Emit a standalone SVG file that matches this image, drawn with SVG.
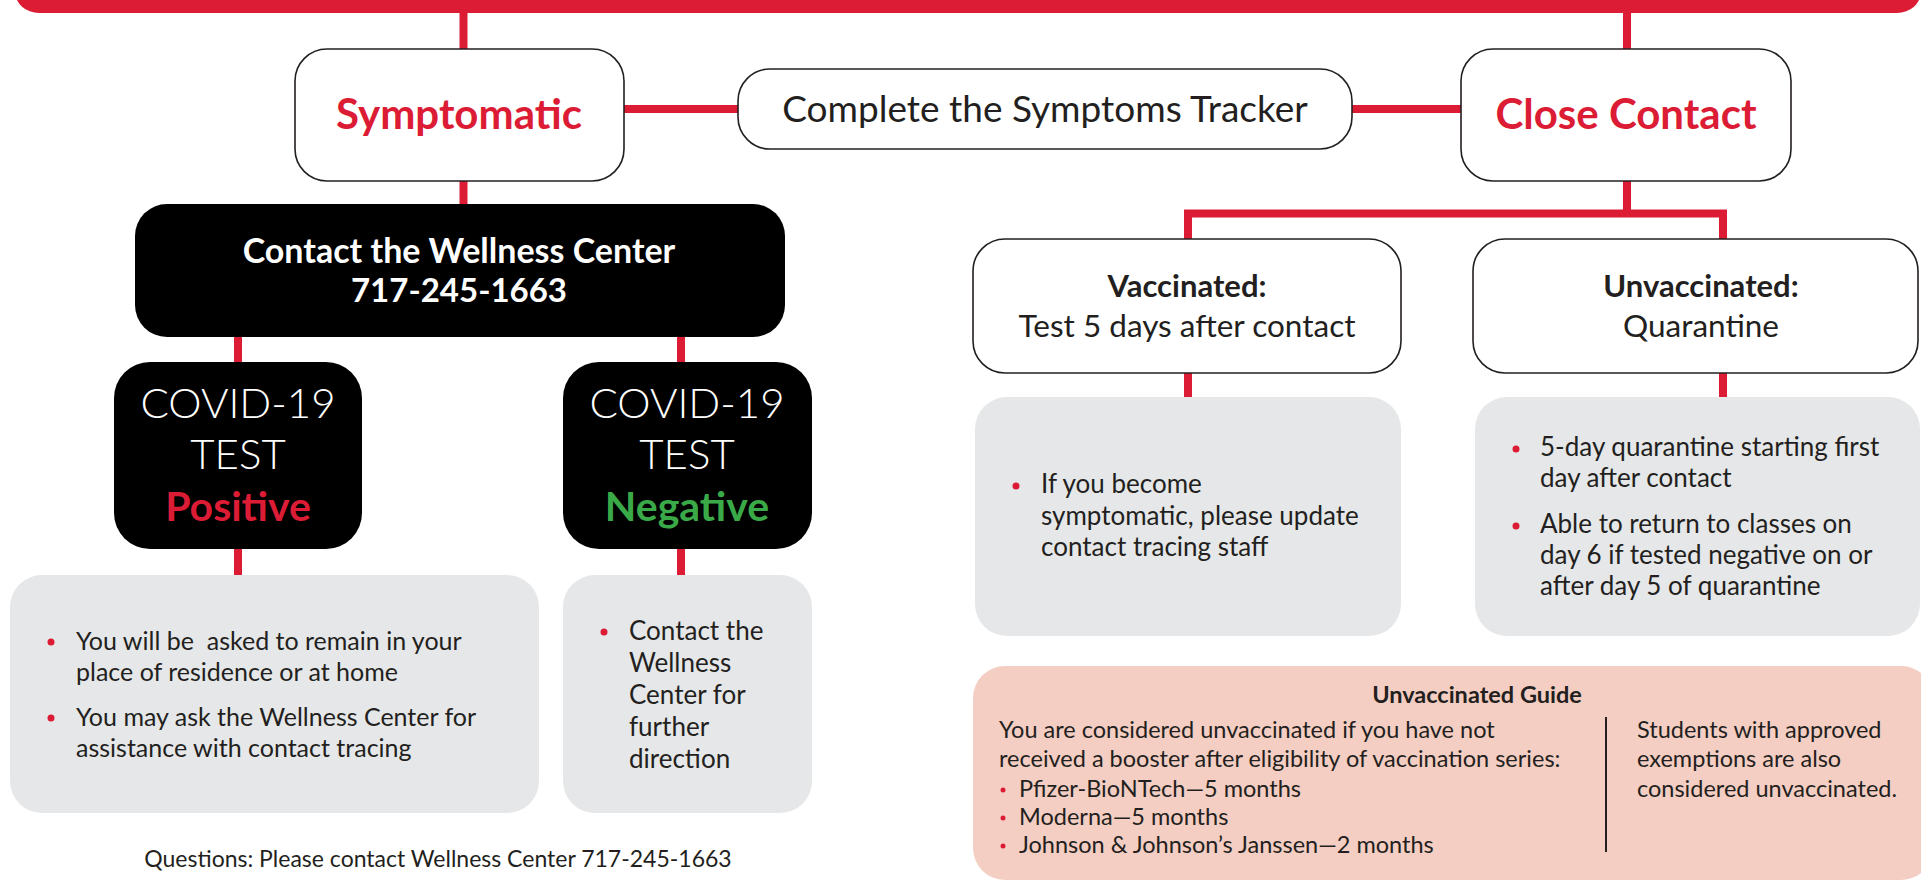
<svg xmlns="http://www.w3.org/2000/svg" width="1921" height="880" viewBox="0 0 1921 880">
  <style>
    text { font-family: Lato, "Open Sans", "Liberation Sans", sans-serif; fill: #231f20; }
    .outline { fill: #ffffff; stroke: #231f20; stroke-width: 1.6; }
    .dark { fill: #000000; }
    .grey { fill: #e6e7e8; }
    .pink { fill: #f4cec2; }
    .wire { fill: none; stroke: #dc1c35; stroke-width: 8; }
    .head { font-weight: 700; font-size: 42px; fill: #dc1c35; }
    .body { font-size: 26px; }
    .bodyl { font-size: 25px; }
    .small { font-size: 23.5px; }
    .mid { text-anchor: middle; }
    .bullet { fill: #dc1c35; }
    .white { fill: #ffffff; }
  </style>

  <!-- top banner -->
  <rect id="banner" x="15" y="-30" width="1906" height="43" rx="24" fill="#dc1c35"/>

  <!-- connectors -->
  <g id="connectors">
    <path class="wire" d="M463.5 13 V49"/>
    <path class="wire" d="M1627 13 V49"/>
    <path class="wire" d="M624 109 H738"/>
    <path class="wire" d="M1352 109 H1461"/>
    <path class="wire" d="M463.5 181 V204"/>
    <path class="wire" d="M238 337 V362"/>
    <path class="wire" d="M681 337 V362"/>
    <path class="wire" d="M238 549 V575"/>
    <path class="wire" d="M681 549 V575"/>
    <path class="wire" d="M1627 181 V213.5"/>
    <path class="wire" d="M1188 239 V213.5 H1723 V239"/>
    <path class="wire" d="M1188 373 V397"/>
    <path class="wire" d="M1723 373 V397"/>
  </g>

  <g id="symptomatic">
    <rect class="outline" x="295" y="49" width="329" height="132" rx="32"/>
    <text class="head mid" x="459" y="129">Symptomatic</text>
  </g>

  <g id="tracker">
    <rect class="outline" x="738" y="69" width="614" height="80" rx="32"/>
    <text class="mid" x="1045" y="122" font-size="37">Complete the Symptoms Tracker</text>
  </g>

  <g id="close-contact">
    <rect class="outline" x="1461" y="49" width="330" height="132" rx="32"/>
    <text class="head mid" x="1626" y="129">Close Contact</text>
  </g>

  <g id="wellness">
    <rect class="dark" x="135" y="204" width="650" height="133" rx="32"/>
    <text class="white mid" x="459" y="263" font-size="34" font-weight="700">Contact the Wellness Center</text>
    <text class="white mid" x="459" y="302" font-size="33" font-weight="700">717-245-1663</text>
  </g>

  <g id="test-positive">
    <rect class="dark" x="114" y="362" width="248" height="187" rx="36"/>
    <text class="white mid" x="238" y="418" font-size="42" font-weight="300">COVID-19</text>
    <text class="white mid" x="238" y="469" font-size="42" font-weight="300">TEST</text>
    <text class="mid" x="238" y="521" font-size="41" font-weight="700" style="fill:#dc1c35">Positive</text>
  </g>

  <g id="test-negative">
    <rect class="dark" x="563" y="362" width="249" height="187" rx="36"/>
    <text class="white mid" x="687" y="418" font-size="42" font-weight="300">COVID-19</text>
    <text class="white mid" x="687" y="469" font-size="42" font-weight="300">TEST</text>
    <text class="mid" x="687" y="521" font-size="41" font-weight="700" style="fill:#3aaa49">Negative</text>
  </g>

  <g id="positive-steps">
    <rect class="grey" x="10" y="575" width="529" height="238" rx="32"/>
    <circle class="bullet" cx="51" cy="642" r="3.5"/>
    <text class="bodyl" x="76" y="650" xml:space="preserve">You will be  asked to remain in your</text>
    <text class="bodyl" x="76" y="681">place of residence or at home</text>
    <circle class="bullet" cx="51" cy="718" r="3.5"/>
    <text class="bodyl" x="76" y="726">You may ask the Wellness Center for</text>
    <text class="bodyl" x="76" y="757">assistance with contact tracing</text>
  </g>

  <g id="negative-steps">
    <rect class="grey" x="563" y="575" width="249" height="238" rx="32"/>
    <circle class="bullet" cx="604" cy="632" r="3.5"/>
    <text class="body" x="629" y="640">Contact the</text>
    <text class="body" x="629" y="672">Wellness</text>
    <text class="body" x="629" y="704">Center for</text>
    <text class="body" x="629" y="736">further</text>
    <text class="body" x="629" y="768">direction</text>
  </g>

  <g id="questions">
    <text class="mid" x="438" y="867" font-size="23">Questions: Please contact Wellness Center 717-245-1663</text>
  </g>

  <g id="vaccinated">
    <rect class="outline" x="973" y="239" width="428" height="134" rx="32"/>
    <text class="mid" x="1187" y="297" font-size="31" font-weight="700">Vaccinated:</text>
    <text class="mid" x="1187" y="337" font-size="31.5">Test 5 days after contact</text>
  </g>

  <g id="unvaccinated">
    <rect class="outline" x="1473" y="239" width="445" height="134" rx="32"/>
    <text class="mid" x="1701" y="297" font-size="31" font-weight="700">Unvaccinated:</text>
    <text class="mid" x="1701" y="337" font-size="31.5">Quarantine</text>
  </g>

  <g id="vaccinated-steps">
    <rect class="grey" x="975" y="397" width="426" height="239" rx="32"/>
    <circle class="bullet" cx="1016" cy="486" r="3.5"/>
    <text class="body" x="1041" y="493">If you become</text>
    <text class="body" x="1041" y="525">symptomatic, please update</text>
    <text class="body" x="1041" y="556">contact tracing staff</text>
  </g>

  <g id="unvaccinated-steps">
    <rect class="grey" x="1475" y="397" width="445" height="239" rx="32"/>
    <circle class="bullet" cx="1516" cy="449" r="3.5"/>
    <text class="body" x="1540" y="456">5-day quarantine starting first</text>
    <text class="body" x="1540" y="487">day after contact</text>
    <circle class="bullet" cx="1516" cy="526" r="3.5"/>
    <text class="body" x="1540" y="533">Able to return to classes on</text>
    <text class="body" x="1540" y="564">day 6 if tested negative on or</text>
    <text class="body" x="1540" y="595">after day 5 of quarantine</text>
  </g>

  <g id="guide">
    <rect class="pink" x="973" y="666" width="960" height="214" rx="32"/>
    <text class="small mid" x="1477" y="703" font-weight="700">Unvaccinated Guide</text>
    <text class="small" x="999" y="738">You are considered unvaccinated if you have not</text>
    <text class="small" x="999" y="767">received a booster after eligibility of vaccination series:</text>
    <circle class="bullet" cx="1003" cy="790" r="2.5"/>
    <text class="small" x="1019" y="797">Pfizer-BioNTech—5 months</text>
    <circle class="bullet" cx="1003" cy="818" r="2.5"/>
    <text class="small" x="1019" y="825">Moderna—5 months</text>
    <circle class="bullet" cx="1003" cy="846" r="2.5"/>
    <text class="small" x="1019" y="853">Johnson &amp; Johnson’s Janssen—2 months</text>
    <path d="M1606 717 V852" stroke="#231f20" stroke-width="2"/>
    <text class="small" x="1637" y="738">Students with approved</text>
    <text class="small" x="1637" y="767">exemptions are also</text>
    <text class="small" x="1637" y="797">considered unvaccinated.</text>
  </g>
</svg>
